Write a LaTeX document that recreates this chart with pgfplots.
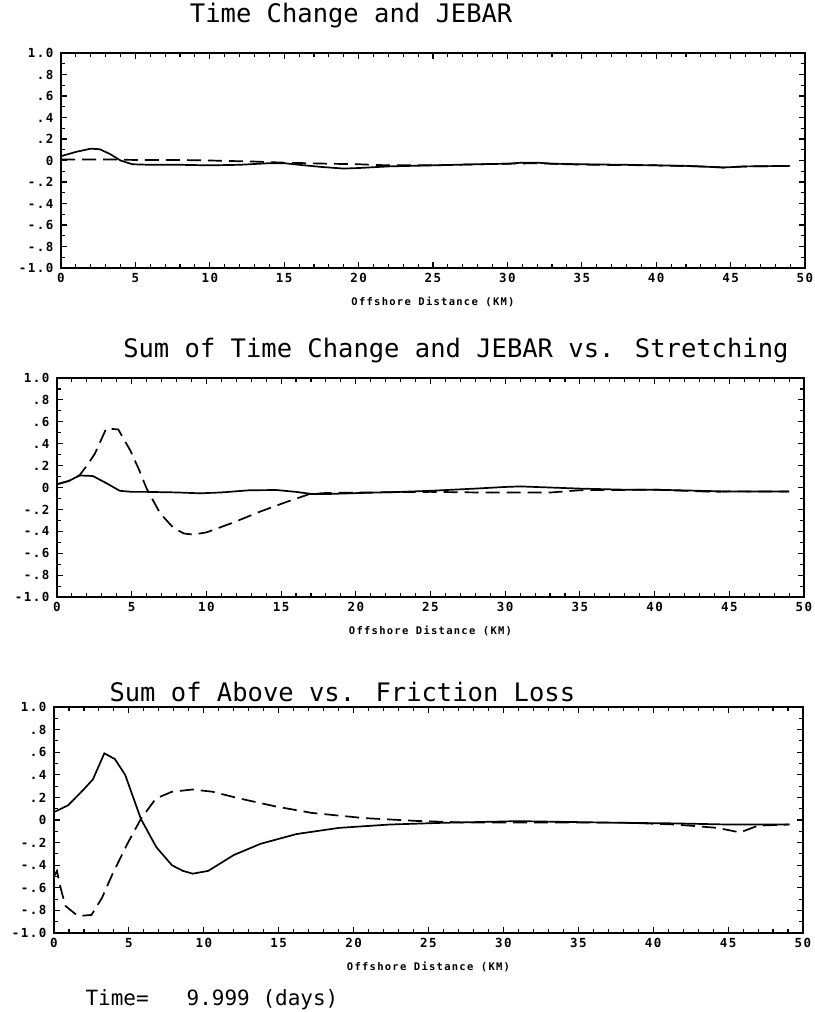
\documentclass[border=0pt]{standalone}
\usepackage{fontspec}
\usepackage{pgfplots}
\pgfplotsset{compat=1.18}
\newfontfamily\titlefont{DejaVu Sans Mono}
\newfontfamily\tickfont[LetterSpace=12]{DejaVu Sans Mono}

\pgfplotstableread{
x y
0 0.04
1 0.08
2 0.11
2.6 0.105
3.3 0.06
4 0.0
4.8 -0.035
6 -0.04
8 -0.04
10 -0.045
12 -0.04
14 -0.025
15 -0.025
16 -0.04
17.5 -0.06
19 -0.075
20 -0.07
22 -0.055
25 -0.045
28 -0.035
30 -0.03
31 -0.02
32 -0.02
33 -0.03
35 -0.035
38 -0.04
40 -0.045
42 -0.05
44.5 -0.065
46 -0.055
49 -0.05
}\pa

\pgfplotstableread{
x y
0 0.01
3 0.01
5 0.005
8 0.005
10 0.0
13 -0.01
15 -0.02
18 -0.03
20 -0.035
22 -0.045
25 -0.045
28 -0.035
30 -0.03
32 -0.025
34 -0.035
36 -0.04
40 -0.045
43 -0.055
44.5 -0.065
46 -0.055
49 -0.05
}\pb

\pgfplotstableread{
x y
0 0.03
0.8 0.06
1.5 0.11
2.4 0.105
3.3 0.04
4.2 -0.03
5 -0.04
6 -0.04
8 -0.045
9.6 -0.053
11 -0.045
12.9 -0.025
14.7 -0.023
16 -0.04
17.1 -0.06
18 -0.06
20.3 -0.05
23 -0.04
25 -0.03
28 -0.01
30 0.005
31 0.01
33 0.0
35 -0.01
38 -0.02
40 -0.02
43 -0.03
45 -0.037
49 -0.037
}\pc

\pgfplotstableread{
x y
0 0.03
0.8 0.06
1.5 0.11
2.0 0.2
2.54 0.31
3.3 0.54
4.1 0.53
4.9 0.34
5.5 0.16
6.0 -0.01
6.9 -0.235
7.8 -0.37
8.5 -0.42
9.1 -0.43
10.0 -0.41
11.8 -0.32
13.6 -0.22
15.4 -0.13
16.9 -0.06
18 -0.05
20 -0.046
25 -0.04
28 -0.045
30 -0.046
33 -0.046
35 -0.025
40 -0.02
44 -0.04
45 -0.035
49 -0.037
}\pd

\pgfplotstableread{
x y
0 0.07
0.94 0.13
1.98 0.27
2.6 0.36
3.36 0.59
4.06 0.54
4.75 0.40
5.8 0.01
6.83 -0.24
7.87 -0.40
8.6 -0.45
9.26 -0.475
10.3 -0.45
12.0 -0.31
13.8 -0.21
16.2 -0.124
19.0 -0.07
22.4 -0.04
25.9 -0.025
31 -0.01
38 -0.025
41.5 -0.03
45 -0.04
49.1 -0.04
}\pe

\pgfplotstableread{
x y
0 -0.5
0.2 -0.45
0.4 -0.58
0.76 -0.76
1.6 -0.85
2.5 -0.84
3.2 -0.69
3.9 -0.48
4.9 -0.21
5.8 0.01
6.8 0.19
7.87 0.25
9.26 0.27
10.6 0.25
12.4 0.19
14.8 0.12
17.2 0.063
20.7 0.017
24.2 -0.008
27.6 -0.023
31 -0.023
38 -0.023
41.5 -0.04
44.3 -0.07
45.8 -0.11
47 -0.05
49 -0.04
}\pf

\begin{document}
\begin{tikzpicture}
\useasboundingbox (0,0) rectangle (814pt,-1012pt);
\pgfplotsset{
  panel/.style={
    scale only axis, anchor=north west,
    xmin=0, xmax=50, ymin=-1, ymax=1,
    xtick={0,5,...,50},
    xticklabels={0,5,10,15,20,25,30,35,40,45,50},
    ytick={-1,-0.8,-0.6,-0.4,-0.2,0,0.2,0.4,0.6,0.8,1},
    yticklabels={-1.0,-.8,-.6,-.4,-.2,0,.2,.4,.6,.8,1.0},
    minor x tick num=4, minor y tick num=1,
    tick align=inside, major tick length=6pt, minor tick length=4pt,
    tick style={black, line width=1.1pt},
    axis line style={line width=1.8pt},
    tick label style={font=\tickfont\bfseries\fontsize{12.5}{12.5}\selectfont},
    yticklabel style={xshift=-4pt},
    xticklabel style={yshift=-2pt},
    xlabel={Offshore Distance (KM)},
    xlabel style={font=\tickfont\bfseries\fontsize{10.5}{10.5}\selectfont,
      at={(axis description cs:0.5,0)}, anchor=center, yshift=-34pt},
    title style={font=\titlefont\fontsize{25.5}{25.5}\selectfont, anchor=base},
    ylabel style={at={(axis description cs:0,0.5)}, anchor=center},
  },
  sline/.style={black, line width=1.7pt, no markers},
  dline/.style={black, line width=1.7pt, no markers, dash pattern=on 14pt off 7pt},
}

\begin{axis}[panel, at={(61pt,-53pt)}, width=744pt, height=215pt,
  title={Time Change and JEBAR},
  title style={at={(axis description cs:0.39,1)}, yshift=25pt},
  ylabel={\rule{6pt}{1.4pt}}, ylabel style={xshift=-55pt}]
\addplot[sline] table[x=x,y=y] {\pa};
\addplot[dline] table[x=x,y=y] {\pb};
\end{axis}

\begin{axis}[panel, at={(57pt,-378pt)}, width=747pt, height=219pt,
  title={Sum of Time Change and JEBAR vs. Stretching},
  title style={at={(axis description cs:0.534,1)}, yshift=15pt},
  ylabel={\rule{6pt}{1.4pt}}, ylabel style={xshift=-54pt}]
\addplot[sline] table[x=x,y=y] {\pc};
\addplot[dline] table[x=x,y=y] {\pd};
\end{axis}

\begin{axis}[panel, at={(54pt,-707pt)}, width=749pt, height=226pt,
  title={Sum of Above vs. Friction Loss},
  title style={at={(axis description cs:0.385,1)}, yshift=0pt}]
\addplot[sline] table[x=x,y=y] {\pe};
\addplot[dline] table[x=x,y=y] {\pf};
\end{axis}

\node[font=\titlefont\fontsize{21}{21}\selectfont, anchor=base west] at (82pt,-1005pt) {Time=\ \ \ 9.999 (days)};
\end{tikzpicture}
\end{document}
